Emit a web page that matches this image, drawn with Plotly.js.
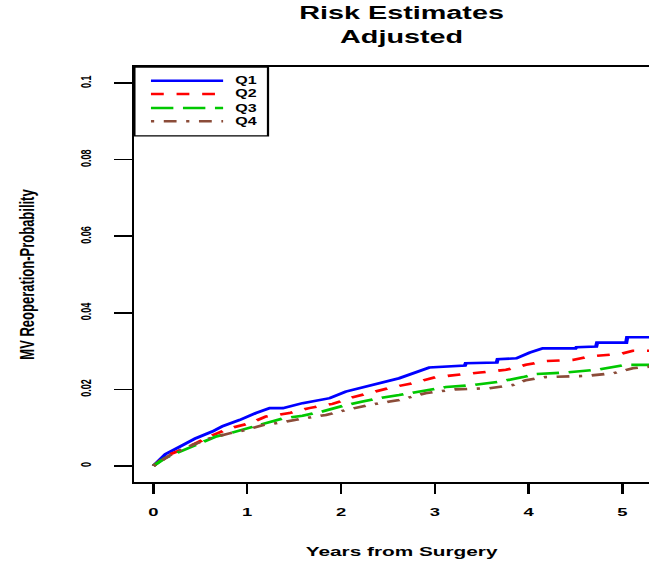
<!DOCTYPE html>
<html><head><meta charset="utf-8">
<script src="https://cdn.plot.ly/plotly-3.0.1.min.js"></script>
<style>
html,body{margin:0;padding:0;overflow:hidden;background:#fff;width:649px;height:565px}
#chart{width:440px;height:565px;transform:scaleX(1.6);transform-origin:0 0}
</style></head><body><div id="chart"></div>
<script>
// ---- data ----
const seriesNames = ["Q1", "Q2", "Q3", "Q4"];
const q1Years = [0, 0.13, 0.28, 0.45, 0.63, 0.74, 0.92, 1.09, 1.24, 1.38, 1.59, 1.88, 2.05, 2.30, 2.41, 2.62, 2.94, 3.32, 3.33, 3.66, 3.67, 3.87, 4.01, 4.15, 4.50, 4.51, 4.72, 4.73, 5.04, 5.05, 5.45];
const q1Prob  = [0, 0.0031, 0.0050, 0.0072, 0.0090, 0.0104, 0.0120, 0.0138, 0.0151, 0.0151, 0.0164, 0.0177, 0.0194, 0.0209, 0.0216, 0.0229, 0.0257, 0.0262, 0.0268, 0.0270, 0.0279, 0.0281, 0.0296, 0.0307, 0.0307, 0.0310, 0.0312, 0.0322, 0.0322, 0.0336, 0.0336];
const q2Years = [0, 0.15, 0.38, 0.60, 0.81, 1.02, 1.20, 1.45, 1.66, 1.91, 2.12, 2.52, 2.76, 3.01, 3.48, 3.76, 3.97, 4.18, 4.47, 4.68, 4.97, 5.11, 5.45];
const q2Prob  = [0, 0.0028, 0.0050, 0.0077, 0.0098, 0.0111, 0.0129, 0.0138, 0.0151, 0.0162, 0.0179, 0.0204, 0.0216, 0.0232, 0.0244, 0.0251, 0.0264, 0.0274, 0.0277, 0.0287, 0.0292, 0.0301, 0.0301];
const q3Years = [0, 0.12, 0.28, 0.45, 0.67, 0.81, 0.95, 1.17, 1.38, 1.59, 1.80, 2.05, 2.23, 2.41, 2.62, 2.94, 3.12, 3.40, 3.69, 3.94, 4.08, 4.40, 4.72, 5.04, 5.45];
const q3Prob  = [0, 0.0020, 0.0037, 0.0055, 0.0077, 0.0085, 0.0094, 0.0110, 0.0124, 0.0131, 0.0142, 0.0159, 0.0168, 0.0177, 0.0185, 0.0198, 0.0206, 0.0211, 0.0220, 0.0232, 0.0240, 0.0244, 0.0251, 0.0264, 0.0264];
const q4Years = [0, 0.21, 0.42, 0.60, 0.81, 0.99, 1.17, 1.35, 1.59, 1.84, 2.05, 2.30, 2.52, 2.62, 2.90, 3.22, 3.58, 3.83, 3.97, 4.18, 4.61, 4.90, 5.11, 5.28, 5.45];
const q4Prob  = [0, 0.0033, 0.0055, 0.0072, 0.0085, 0.0094, 0.0107, 0.0113, 0.0124, 0.0133, 0.0146, 0.0159, 0.0168, 0.0172, 0.0190, 0.0200, 0.0203, 0.0211, 0.0224, 0.0232, 0.0235, 0.0242, 0.0255, 0.0259, 0.0259];
const xTickVals = [0, 1, 2, 3, 4, 5];
const xTickText = ["0", "1", "2", "3", "4", "5"];
const yTickVals = [0, 0.02, 0.04, 0.06, 0.08, 0.1];
const yTickText = ["0", "0.02", "0.04", "0.06", "0.08", "0.1"];

// ---- styles ----
const colors = ["#0000FF", "#FF0000", "#00C800", "#8B4C39"];
const dashes = ["solid", "8px,8px", "14px,6px", "2px,6px,8px,6px"];
const FONT = "Liberation Sans, Arial, Helvetica, sans-serif";

const xs = [q1Years, q2Years, q3Years, q4Years];
const ys = [q1Prob, q2Prob, q3Prob, q4Prob];
const traces = seriesNames.map((n, i) => ({
  type: "scatter", mode: "lines", name: n, x: xs[i], y: ys[i],
  line: {color: colors[i], width: 2.6, dash: dashes[i]},
  showlegend: false, hoverinfo: "skip"
}));

// manual R-style legend (box at plot's top-left corner)
const shapes = [{type: "rect", xref: "paper", yref: "paper", x0: 0, x1: 0.25, y0: 0.834, y1: 1,
  line: {color: "#000", width: 1.4}, fillcolor: "#fff", layer: "above"}];
const annotations = [];
const rowY = [0.967, 0.935, 0.901, 0.869];
seriesNames.forEach((n, i) => {
  shapes.push({type: "line", xref: "paper", yref: "paper", x0: 0.031, x1: 0.166, y0: rowY[i], y1: rowY[i],
    line: {color: colors[i], width: 2.5, dash: dashes[i]}, layer: "above"});
  annotations.push({xref: "paper", yref: "paper", x: 0.184, y: rowY[i], xanchor: "left", yanchor: "middle",
    text: n, showarrow: false, font: {family: FONT, size: 10, color: "#000", weight: "bold"}});
});

const layout = {
  width: 440, height: 565,
  margin: {l: 84, r: 22, t: 67, b: 83, pad: 0},
  paper_bgcolor: "#fff", plot_bgcolor: "#fff",
  font: {family: FONT, color: "#000"},
  title: {text: "Risk Estimates<br>Adjusted", xref: "paper", x: 0.5, xanchor: "center",
    yref: "container", y: 0.966, yanchor: "top",
    font: {family: FONT, size: 18, color: "#000", weight: "bold"}},
  xaxis: {range: [-0.2026, 5.494], tickvals: xTickVals, ticktext: xTickText,
    ticks: "outside", ticklen: 10, tickwidth: 1.6, tickcolor: "#000",
    showline: true, linewidth: 1.6, linecolor: "#000", mirror: true,
    showgrid: false, zeroline: false, ticklabelstandoff: 9,
    tickfont: {family: FONT, size: 11.5, color: "#000", weight: "bold"},
    title: {text: "Years from Surgery", standoff: 29,
      font: {family: FONT, size: 13, color: "#000", weight: "bold"}}},
  yaxis: {range: [-0.0042, 0.1042], tickvals: yTickVals, ticktext: yTickText, tickangle: -90,
    ticks: "outside", ticklen: 11, tickwidth: 1.6, tickcolor: "#000",
    showline: true, linewidth: 1.6, linecolor: "#000", mirror: true,
    showgrid: false, zeroline: false, ticklabelstandoff: 11,
    tickfont: {family: FONT, size: 9, color: "#000", weight: "bold"},
    title: {text: "MV Reoperation-Probability", standoff: 24,
      font: {family: FONT, size: 13, color: "#000", weight: "bold"}}},
  shapes: shapes, annotations: annotations
};

Plotly.newPlot("chart", traces, layout, {displayModeBar: false, staticPlot: true});
</script></body></html>
